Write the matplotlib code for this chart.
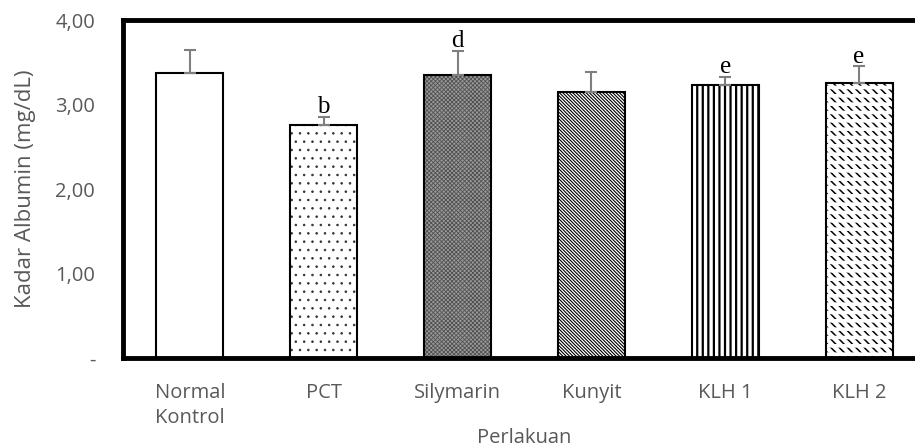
import numpy as np
import matplotlib
matplotlib.use('Agg')
import matplotlib.pyplot as plt

# data
groups = ['Normal\nKontrol', 'PCT', 'Silymarin', 'Kunyit', 'KLH 1', 'KLH 2']
means = [3.37, 2.76, 3.35, 3.15, 3.23, 3.25]
sd = [0.27, 0.09, 0.28, 0.24, 0.10, 0.20]
letters = ['', 'b', 'd', '', 'e', 'e']

hatches = [None, '..', 'xxxxxxxx', '\\' * 10, '|||', '\\' * 4]
faces = ['white', 'white', '#9a9a9a', 'white', 'white', 'white']
hatch_col = ['black', '#333333', '#505050', 'black', 'black', 'black']
hatch_lw = [1.0, 0.6, 0.6, 0.8, 1.6, 1.1]

grey = '#595959'

fig = plt.figure(figsize=(9.15, 4.48), dpi=100)
ax = fig.add_axes([123/915, (448-358)/448, (926-123)/915, (358-20)/448])

x = np.arange(len(groups))
for i in range(len(groups)):
    with plt.rc_context({'hatch.linewidth': hatch_lw[i]}):
        ax.bar(x[i], means[i], width=0.5, color=faces[i], edgecolor=hatch_col[i],
               linewidth=0, hatch=hatches[i], zorder=2)
# KLH 2: break the diagonals into short rows
with plt.rc_context({'hatch.linewidth': 2.6}):
    ax.bar(x[5], means[5], width=0.5, color='none', edgecolor='white',
           linewidth=0, hatch='--', zorder=3)
# outlines
ax.bar(x, means, width=0.5, color='none', edgecolor='black', linewidth=1.5, zorder=4)

ax.errorbar(x, means, yerr=[np.zeros(len(sd)), sd], fmt='none',
            ecolor='#7f7f7f', elinewidth=1.5, capsize=4.5, capthick=1.5, zorder=5)

for i in range(len(groups)):
    if letters[i]:
        ax.text(x[i], means[i] + sd[i] + 0.045, letters[i], ha='center',
                va='baseline', fontsize=18, family='Liberation Serif', zorder=6)

ax.set_xlim(-0.5, 5.5)
ax.set_ylim(0, 4)
ax.set_yticks([0, 1, 2, 3, 4])
ax.set_yticklabels(['-', '1,00', '2,00', '3,00', '4,00'])
ax.set_xticks(x)
ax.set_xticklabels(groups, linespacing=1.35)
ax.tick_params(length=0, labelsize=14.5, colors=grey)
ax.tick_params(axis='y', pad=20)
ax.tick_params(axis='x', pad=18)
for lab in ax.get_xticklabels() + ax.get_yticklabels():
    lab.set_family('Open Sans')
for s in ax.spines.values():
    s.set_linewidth(3.5)

ax.set_ylabel('Kadar Albumin (mg/dL)', fontsize=16, color=grey,
              family='Open Sans', labelpad=14)
ax.set_xlabel('Perlakuan', fontsize=14.5, color=grey, family='Open Sans',
              labelpad=0)

fig.savefig('out.png', dpi=100)
